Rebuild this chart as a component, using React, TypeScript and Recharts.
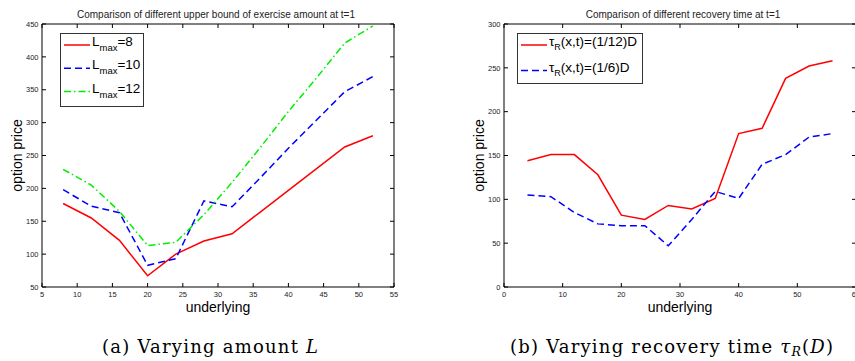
import React from 'react';
import { LineChart, Line, XAxis, YAxis, Legend } from 'recharts';

// (a) upper bound of exercise amount
const underlyingA = [8, 12, 16, 20, 24, 28, 32, 36, 40, 44, 48, 52];
const lmax8 = [177, 155, 121, 67, 100, 120, 131, 164, 197, 230, 263, 280];
const lmax10 = [198, 173, 163, 83, 93, 181, 172, 216, 261, 304, 347, 370];
const lmax12 = [229, 205, 165, 113, 118, 160, 209, 262, 317, 368, 421, 447];
const xTicksA = [5, 10, 15, 20, 25, 30, 35, 40, 45, 50, 55];
const yTicksA = [50, 100, 150, 200, 250, 300, 350, 400, 450];

// (b) recovery time
const underlyingB = [4, 8, 12, 16, 20, 24, 28, 32, 36, 40, 44, 48, 52, 56];
const tauTwelfth = [144, 151, 151, 128, 82, 77, 93, 89, 101, 175, 181, 238, 252, 258];
const tauSixth = [105, 103, 85, 72, 70, 70, 47, 77, 109, 101, 140, 151, 171, 175];
const xTicksB = [0, 10, 20, 30, 40, 50, 60];
const yTicksB = [0, 50, 100, 150, 200, 250, 300];

const rowsA = underlyingA.map((x, i) => ({ x, l8: lmax8[i], l10: lmax10[i], l12: lmax12[i] }));
const rowsB = underlyingB.map((x, i) => ({ x, r12: tauTwelfth[i], r6: tauSixth[i] }));

const FONT = '"Liberation Sans", Arial, sans-serif';
const SERIF = '"DejaVu Serif", serif';
const axisLine = { stroke: '#000' };

type Series = { key: string; color: string; dash?: string; main: string; sub: string; rest: string };

const seriesA: Series[] = [
  { key: 'l8', color: '#ff0000', main: 'L', sub: 'max', rest: '=8' },
  { key: 'l10', color: '#0000ff', dash: '7 4', main: 'L', sub: 'max', rest: '=10' },
  { key: 'l12', color: '#00ee00', dash: '7 3 1.5 3', main: 'L', sub: 'max', rest: '=12' },
];

const seriesB: Series[] = [
  { key: 'r12', color: '#ff0000', main: 'τ', sub: 'R', rest: '(x,t)=(1/12)D' },
  { key: 'r6', color: '#0000ff', dash: '7 4', main: 'τ', sub: 'R', rest: '(x,t)=(1/6)D' },
];

// matlab style: tick marks point into the box
type Side = 'bottom' | 'left' | 'top' | 'right';
const TICK = 4;

function inwardTick(side: Side, edge: number, showLabel: boolean) {
  return (p: any) => {
    const c = p.payload?.coordinate ?? (side === 'bottom' || side === 'top' ? p.x : p.y);
    const v = p.payload?.value;
    let line;
    let label = null;
    if (side === 'bottom') {
      line = <line x1={c} x2={c} y1={edge} y2={edge - TICK} stroke="#000" />;
      if (showLabel) label = <text x={c} y={edge + 10} textAnchor="middle" fontSize={7.5} fill="#222" fontFamily={FONT}>{v}</text>;
    } else if (side === 'top') {
      line = <line x1={c} x2={c} y1={edge} y2={edge + TICK} stroke="#000" />;
    } else if (side === 'left') {
      line = <line x1={edge} x2={edge + TICK} y1={c} y2={c} stroke="#000" />;
      if (showLabel) label = <text x={edge - 3.5} y={c + 2.7} textAnchor="end" fontSize={7.5} fill="#222" fontFamily={FONT}>{v}</text>;
    } else {
      line = <line x1={edge} x2={edge - TICK} y1={c} y2={c} stroke="#000" />;
    }
    return (
      <g>
        {line}
        {label}
      </g>
    );
  };
}

function boxLegend(series: Series[], w: number, h: number, lineY: number, textY: number, gap: number, subDy: number, subSize: number) {
  return () => (
    <svg width={w} height={h} style={{ display: 'block' }}>
      <rect x={0.5} y={0.5} width={w - 1} height={h - 1} fill="#fff" stroke="#333" />
      {series.map((s, i) => (
        <g key={s.key}>
          <line x1={4} x2={30} y1={lineY + i * gap} y2={lineY + i * gap} stroke={s.color} strokeWidth={1.5} strokeDasharray={s.dash} />
          <text x={32} y={textY + i * gap} fontFamily={FONT} fontSize={13.5} fill="#000">
            {s.main}
            <tspan dy={subDy} fontSize={subSize}>{s.sub}</tspan>
            <tspan dy={-subDy}>{s.rest}</tspan>
          </text>
        </g>
      ))}
    </svg>
  );
}

export default function App() {
  return (
    <div style={{ position: 'fixed', left: 0, top: 0, width: 855, height: 361, overflow: 'hidden', background: '#fff', fontFamily: FONT }}>
      <div style={{ position: 'absolute', left: 0, top: 0 }}>
        <LineChart width={420} height={330} data={rowsA} margin={{ top: 23, right: 25, bottom: 0, left: 0 }}>
          <XAxis dataKey="x" type="number" domain={[5, 55]} ticks={xTicksA} interval={0} height={43}
            tickLine={false} tick={inwardTick('bottom', 287, true)} axisLine={axisLine}
            label={{ value: 'underlying', position: 'insideBottom', offset: 18, fontSize: 14, fill: '#000' }} />
          <XAxis xAxisId="top" orientation="top" dataKey="x" type="number" domain={[5, 55]} ticks={xTicksA} interval={0}
            height={1} tickLine={false} tick={inwardTick('top', 24, false)} axisLine={axisLine} />
          <YAxis type="number" domain={[50, 450]} ticks={yTicksA} interval={0} width={42}
            tickLine={false} tick={inwardTick('left', 42, true)} axisLine={axisLine}
            label={{ value: 'option price', angle: -90, position: 'insideLeft', offset: 17, fontSize: 14, fill: '#000', style: { textAnchor: 'middle' } }} />
          <YAxis yAxisId="right" orientation="right" type="number" domain={[50, 450]} ticks={yTicksA} interval={0}
            width={1} tickLine={false} tick={inwardTick('right', 394, false)} axisLine={axisLine} />
          <Legend layout="vertical" align="center" verticalAlign="middle"
            wrapperStyle={{ left: 60, top: 33, width: 84, height: 74 }}
            content={boxLegend(seriesA, 84, 74, 12, 13, 23.3, 5, 9.5)} />
          <Line xAxisId="top" yAxisId="right" dataKey="l8" stroke="none" dot={false} activeDot={false}
            legendType="none" isAnimationActive={false} />
          {seriesA.map((s) => (
            <Line key={s.key} type="linear" dataKey={s.key} stroke={s.color} strokeWidth={1.5}
              strokeDasharray={s.dash} dot={false} activeDot={false} isAnimationActive={false} />
          ))}
        </LineChart>
      </div>

      <div style={{ position: 'absolute', left: 430, top: 0 }}>
        <LineChart width={430} height={330} data={rowsB} margin={{ top: 23, right: 3, bottom: 0, left: 0 }}>
          <XAxis dataKey="x" type="number" domain={[0, 60]} ticks={xTicksB} interval={0} height={43}
            tickLine={false} tick={inwardTick('bottom', 287, true)} axisLine={axisLine}
            label={{ value: 'underlying', position: 'insideBottom', offset: 18, fontSize: 14, fill: '#000' }} />
          <XAxis xAxisId="top" orientation="top" dataKey="x" type="number" domain={[0, 60]} ticks={xTicksB} interval={0}
            height={1} tickLine={false} tick={inwardTick('top', 24, false)} axisLine={axisLine} />
          <YAxis type="number" domain={[0, 300]} ticks={yTicksB} interval={0} width={74}
            tickLine={false} tick={inwardTick('left', 74, true)} axisLine={axisLine}
            label={{ value: 'option price', angle: -90, position: 'insideLeft', offset: 49, fontSize: 14, fill: '#000', style: { textAnchor: 'middle' } }} />
          <YAxis yAxisId="right" orientation="right" type="number" domain={[0, 300]} ticks={yTicksB} interval={0}
            width={1} tickLine={false} tick={inwardTick('right', 426, false)} axisLine={axisLine} />
          <Legend layout="vertical" align="center" verticalAlign="middle"
            wrapperStyle={{ left: 87, top: 33, width: 126, height: 51 }}
            content={boxLegend(seriesB, 126, 51, 12, 13.2, 25.5, 4, 9)} />
          <Line xAxisId="top" yAxisId="right" dataKey="r12" stroke="none" dot={false} activeDot={false}
            legendType="none" isAnimationActive={false} />
          {seriesB.map((s) => (
            <Line key={s.key} type="linear" dataKey={s.key} stroke={s.color} strokeWidth={1.5}
              strokeDasharray={s.dash} dot={false} activeDot={false} isAnimationActive={false} />
          ))}
        </LineChart>
      </div>

      <svg width={855} height={361} style={{ position: 'absolute', left: 0, top: 0, pointerEvents: 'none' }}>
        <text x={216} y={17.5} textAnchor="middle" fontFamily={FONT} fontSize={10} fill="#222">
          Comparison of different upper bound of exercise amount at t=1
        </text>
        <text x={683} y={17.5} textAnchor="middle" fontFamily={FONT} fontSize={10} fill="#222">
          Comparison of different recovery time at t=1
        </text>
        <text x={102} y={352.5} fontFamily={SERIF} fontSize={18} fill="#000" textLength={216} lengthAdjust="spacing">
          (a) Varying amount <tspan fontStyle="italic">L</tspan>
        </text>
        <text x={510} y={352.5} fontFamily={SERIF} fontSize={18} fill="#000" textLength={323} lengthAdjust="spacing">
          (b) Varying recovery time <tspan fontStyle="italic">τ</tspan>
          <tspan fontStyle="italic" fontSize={12.5} dy={3}>R</tspan>
          <tspan dy={-3}>(</tspan>
          <tspan fontStyle="italic">D</tspan>)
        </text>
      </svg>
    </div>
  );
}
